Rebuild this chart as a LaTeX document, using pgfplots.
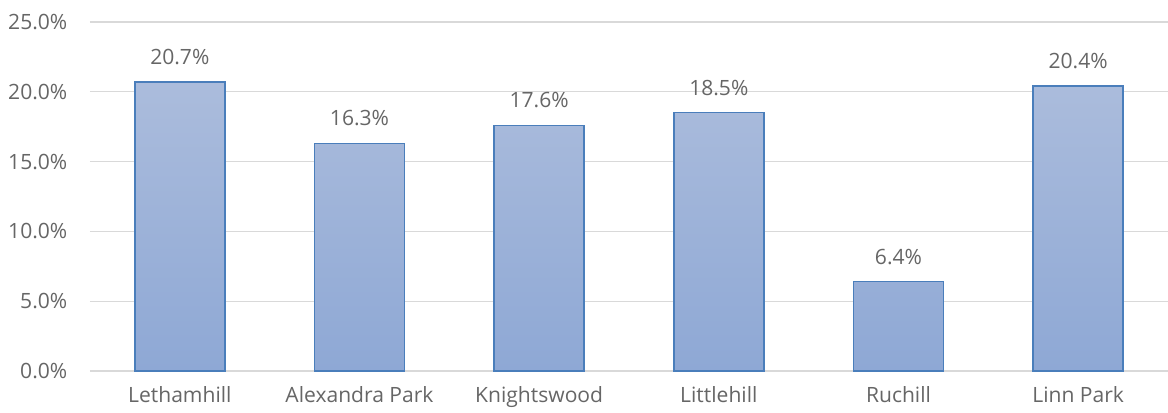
\documentclass[border=0pt]{standalone}
\usepackage{pgfplots}
\pgfplotsset{compat=1.18}
\usepackage{fontspec}
\setmainfont{Open Sans}
\definecolor{txt}{HTML}{666666}
\definecolor{grid}{HTML}{D9D9D9}
\definecolor{bordr}{HTML}{4A7EBB}
\definecolor{btop}{HTML}{ABBCDC}
\definecolor{bbot}{HTML}{8EA8D5}
\begin{document}
\begin{tikzpicture}
\begin{axis}[
  at={(0pt,0pt)}, anchor=south west,
  scale only axis,
  width=808.5pt, height=261.75pt,
  xmin=-0.5, xmax=5.5,
  ymin=0, ymax=25,
  ytick={0,5,10,15,20,25},
  xtick={0,1,2,3,4,5},
  xticklabels={Lethamhill,Alexandra Park,Knightswood,Littlehill,Ruchill,Linn Park},
  axis line style={draw=none},
  major tick length=0pt,
  tick style={draw=none},
  xmajorgrids=false,
  ymajorgrids=true,
  y grid style={grid, line width=1pt},
  tick label style={text=txt, font=\fontsize{15.8}{18}\selectfont},
  /pgf/number format/assume math mode=true,
  yticklabel={\pgfmathprintnumber[fixed,fixed zerofill,precision=1]{\tick}\%},
  yticklabel style={xshift=-13.5pt},
  xticklabel style={yshift=-8pt},
  ybar, bar width=67.5pt,
  nodes near coords={\pgfmathprintnumber[fixed,fixed zerofill,precision=1,assume math mode=true]{\pgfplotspointmeta}\%},
  nodes near coords style={text=txt, font=\fontsize{15.8}{18}\selectfont, yshift=9pt},
  clip=false,
]
\addplot[draw=bordr, line width=1.1pt, top color=btop, bottom color=bbot] coordinates {
  (0,20.7) (1,16.3) (2,17.6) (3,18.5) (4,6.4) (5,20.4)
};
\end{axis}
\pgfresetboundingbox
\useasboundingbox (-67.5pt,-30.75pt) rectangle (808.5pt,278.25pt);
\end{tikzpicture}
\end{document}
